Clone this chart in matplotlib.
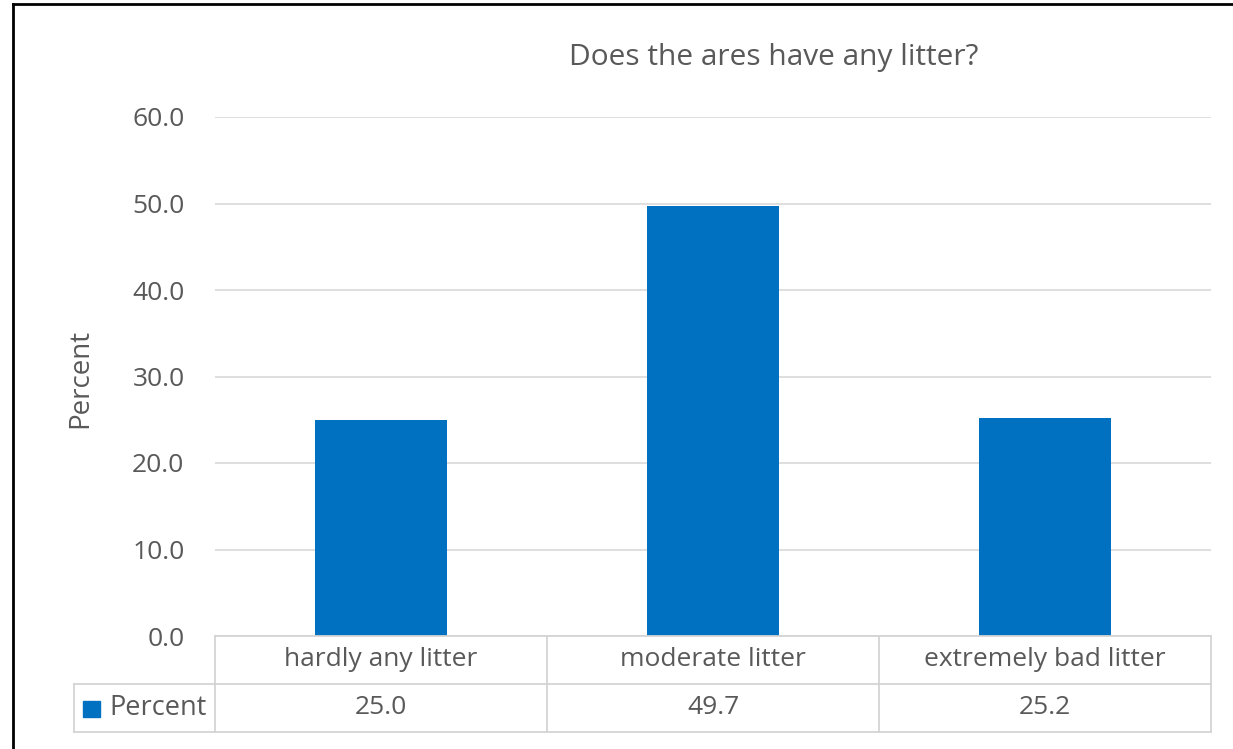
import matplotlib.pyplot as plt
from matplotlib.lines import Line2D
from matplotlib.patches import Rectangle

# data
categories = ["hardly any litter", "moderate litter", "extremely bad litter"]
percent = [25.0, 49.7, 25.2]
series_name = "Percent"
yticks = [0, 10, 20, 30, 40, 50, 60]

W, H = 1233, 749
bar_color = "#0070C0"
text_color = "#595959"
grid_color = "#D9D9D9"
fs = 19

plt.rcParams['font.family'] = ['Open Sans', 'DejaVu Sans']

fig = plt.figure(figsize=(W / 100, H / 100), dpi=100)

def fx(px):
    return px / W

def fy(py):
    return 1 - py / H

# plot area in pixels
x0, x1 = 215, 1211
y_top, y_bot = 117, 636
ax = fig.add_axes([fx(x0), fy(y_bot), fx(x1) - fx(x0), fy(y_top) - fy(y_bot)])

xs = range(len(categories))
ax.bar(xs, percent, width=0.4, color=bar_color, zorder=3)
ax.set_xlim(-0.5, len(categories) - 0.5)
ax.set_ylim(0, 60)
ax.set_yticks(yticks)
ax.set_yticklabels([f"{v:.1f}" for v in yticks], fontsize=fs, color=text_color)
ax.tick_params(axis='y', length=0, pad=22)
ax.set_xticks([])
ax.grid(axis='y', color=grid_color, linewidth=1.2, zorder=0)
for s in ax.spines.values():
    s.set_visible(False)

fig.text(fx(80), fy(378), "Percent", rotation=90, ha='center', va='center',
         fontsize=20, color=text_color)
fig.text(fx(774), fy(57), "Does the ares have any litter?", ha='center', va='center',
         fontsize=21.5, color=text_color)

# data table under the axis
row1_top, row1_bot, row2_bot = 636, 684, 732
tbl_left = 74
col_w = (x1 - x0) / len(categories)
tl = dict(color="#D4D4D4", linewidth=1.3, transform=fig.transFigure)
fig.add_artist(Line2D([fx(x0), fx(x1)], [fy(row1_top)] * 2, **tl))
fig.add_artist(Line2D([fx(tbl_left), fx(x1)], [fy(row1_bot)] * 2, **tl))
fig.add_artist(Line2D([fx(tbl_left), fx(x1)], [fy(row2_bot)] * 2, **tl))
fig.add_artist(Line2D([fx(tbl_left)] * 2, [fy(row1_bot), fy(row2_bot)], **tl))
for i in range(len(categories) + 1):
    xp = x0 + i * col_w
    fig.add_artist(Line2D([fx(xp)] * 2, [fy(row1_top), fy(row2_bot)], **tl))
for i, (c, v) in enumerate(zip(categories, percent)):
    xc = x0 + (i + 0.5) * col_w
    fig.text(fx(xc), fy((row1_top + row1_bot) / 2), c, ha='center', va='center',
             fontsize=fs, color=text_color)
    fig.text(fx(xc), fy((row1_bot + row2_bot) / 2), f"{v:.1f}", ha='center', va='center',
             fontsize=fs, color=text_color)
fig.add_artist(Rectangle((fx(83), fy(717)), fx(17), fy(701) - fy(717), color=bar_color,
                         transform=fig.transFigure))
fig.text(fx(109), fy((row1_bot + row2_bot) / 2), series_name, ha='left', va='center',
         fontsize=19.5, color=text_color)

# outer frame (left and top edges visible)
bl = dict(color="black", linewidth=2, transform=fig.transFigure)
fig.add_artist(Line2D([fx(13), fx(13)], [fy(4), 0], **bl))
fig.add_artist(Line2D([fx(13), 1], [fy(4), fy(4)], **bl))

fig.savefig("out.png", dpi=100)
